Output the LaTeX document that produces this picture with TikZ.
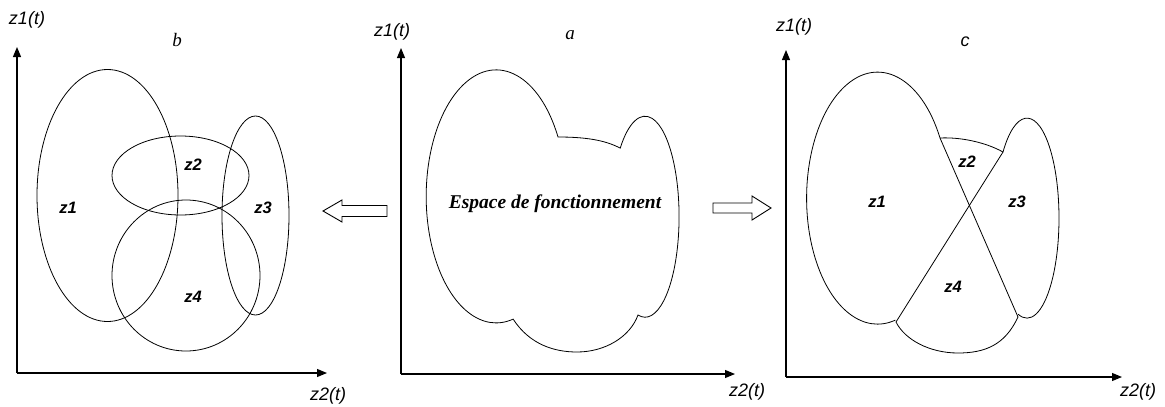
\documentclass[tikz,border=0pt]{standalone}
\usepackage{fontspec}
\setmainfont{Liberation Serif}
\newfontfamily\arialf{Liberation Sans}
\usetikzlibrary{arrows.meta}
\tikzset{
  axisline/.style={line width=1.1pt,-{Triangle[length=10pt,width=8pt]}},
  shapeline/.style={line width=0.8pt},
  axislabel/.style={inner sep=0pt,font=\arialf\itshape\fontsize{18}{20}\selectfont},
  zonelabel/.style={inner sep=0pt,font=\arialf\bfseries\itshape\fontsize{16.5}{18}\selectfont},
  paneltitle/.style={inner sep=0pt,font=\itshape\fontsize{19}{21}\selectfont},
  hollowarrow/.style={line width=0.9pt,fill=white},
}
\begin{document}
\begin{tikzpicture}[x=1pt,y=-1pt]
\useasboundingbox (0,0) rectangle (1165,407);

% ---------- panel b ----------
\coordinate (bO) at (17,373);
\coordinate (bY) at (17,47);
\coordinate (bX) at (327,373);
\draw[axisline] (bO) -- (bY);
\draw[axisline] (bO) -- (bX);
\node[axislabel] (bzy) at (27,20) {z1(t)};
\node[axislabel] (bzx) at (328,396) {z2(t)};
\node[paneltitle] (btitle) at (177,40) {b};
\draw[shapeline] (107.5,195.5) ellipse [x radius=70.5,y radius=126];
\draw[shapeline] (180.5,175.5) ellipse [x radius=68.5,y radius=39.5];
\draw[shapeline] (255.5,215.5) ellipse [x radius=33.5,y radius=99.5];
\draw[shapeline] (186,275.5) ellipse [x radius=74,y radius=75.5];
\node[zonelabel] (bz1) at (68,208) {z1};
\node[zonelabel] (bz2) at (193,165) {z2};
\node[zonelabel] (bz3) at (263,208) {z3};
\node[zonelabel] (bz4) at (193,297) {z4};

% left hollow arrow
\draw[hollowarrow] (323,211) -- (342,200) -- (342,205.5) -- (387,205.5) -- (387,216.5) -- (342,216.5) -- (342,222) -- cycle;

% ---------- panel a ----------
\coordinate (aO) at (401,374);
\coordinate (aY) at (401,48);
\coordinate (aX) at (735,374);
\draw[axisline] (aO) -- (aY);
\draw[axisline] (aO) -- (aX);
\node[axislabel] (azy) at (392,32) {z1(t)};
\node[axislabel] (azx) at (747,392) {z2(t)};
\node[paneltitle] (atitle) at (570,35) {a};
\draw[shapeline] (558,137)
  arc[start angle=-28,end angle=-284,x radius=70,y radius=126.5]
  .. controls (530,345) and (555,352) .. (577,352)
  .. controls (605,352) and (630,337) .. (638,315)
  arc[start angle=102,end angle=-137,x radius=34,y radius=100.5]
  .. controls (605,140) and (585,137) .. cycle;
\node[inner sep=0pt,font=\bfseries\itshape\fontsize{19.5}{22}\selectfont] (space) at (555,204) {Espace de fonctionnement};

% right hollow arrow
\draw[hollowarrow] (713,203) -- (752,203) -- (752,196) -- (771,208) -- (752,220) -- (752,213) -- (713,213) -- cycle;

% ---------- panel c ----------
\coordinate (cO) at (786,377);
\coordinate (cY) at (786,50);
\coordinate (cX) at (1122,377);
\draw[axisline] (cO) -- (cY);
\draw[axisline] (cO) -- (cX);
\node[axislabel] (czy) at (794,27) {z1(t)};
\node[axislabel] (czx) at (1138,392) {z2(t)};
\node[paneltitle,font=\arialf\itshape\fontsize{18}{20}\selectfont] (ctitle) at (965,42) {c};

\coordinate (P1) at (940,138);
\coordinate (P2) at (896,322);
\coordinate (P3) at (1003,152);
\coordinate (P4) at (1018,317);
\draw[shapeline] (P1)
  arc[start angle=-28.5,end angle=-284.5,x radius=71,y radius=126];
\draw[shapeline] (P1) .. controls (960,137) and (985,142) .. (P3);
\draw[shapeline] (P3)
  arc[start angle=-138.6,end angle=106,x radius=32,y radius=100];
\draw[shapeline] (P4) .. controls (1005,345) and (985,353) .. (958,353)
  .. controls (930,353) and (905,340) .. (P2);
\draw[shapeline] (P1) -- (P4);
\draw[shapeline] (P3) -- (P2);
\node[zonelabel] (cz1) at (877,202) {z1};
\node[zonelabel] (cz2) at (967,162) {z2};
\node[zonelabel] (cz3) at (1017,202) {z3};
\node[zonelabel] (cz4) at (953,287) {z4};
\end{tikzpicture}
\end{document}
